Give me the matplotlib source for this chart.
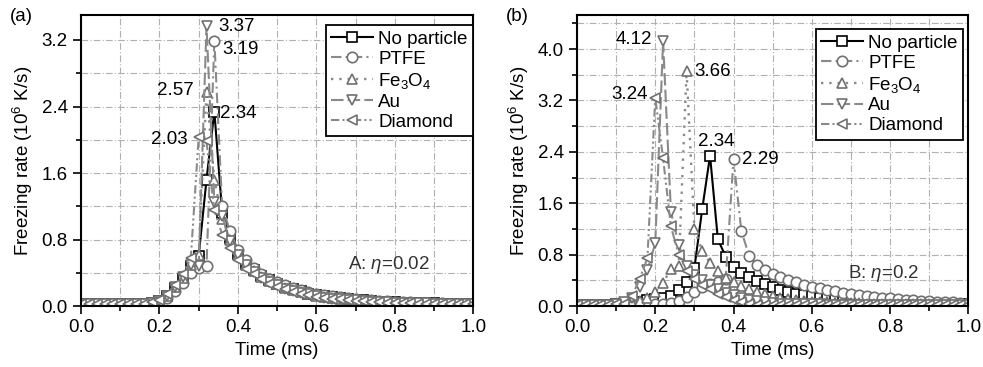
import matplotlib.pyplot as plt
from matplotlib.ticker import MultipleLocator

plt.rcParams['font.family'] = ['Liberation Sans', 'DejaVu Sans']
plt.rcParams['mathtext.fontset'] = 'custom'
plt.rcParams['mathtext.rm'] = 'Liberation Sans'
plt.rcParams['mathtext.it'] = 'Liberation Sans:italic'

# time axis (ms), one marker every 0.02 ms
t = [0.00, 0.02, 0.04, 0.06, 0.08, 0.10, 0.12, 0.14, 0.16, 0.18,
     0.20, 0.22, 0.24, 0.26, 0.28, 0.30, 0.32, 0.34, 0.36, 0.38,
     0.40, 0.42, 0.44, 0.46, 0.48, 0.50, 0.52, 0.54, 0.56, 0.58,
     0.60, 0.62, 0.64, 0.66, 0.68, 0.70, 0.72, 0.74, 0.76, 0.78,
     0.80, 0.82, 0.84, 0.86, 0.88, 0.90, 0.92, 0.94, 0.96, 0.98, 1.00]

labels = ['No particle', 'PTFE', 'Fe$_3$O$_4$', 'Au', 'Diamond']

# ---- panel (a), eta = 0.02 ----
a_none = [0.02, 0.02, 0.02, 0.02, 0.02, 0.02, 0.02, 0.02, 0.03, 0.04,
          0.06, 0.12, 0.22, 0.33, 0.48, 0.60, 1.52, 2.34, 1.12, 0.82,
          0.63, 0.51, 0.43, 0.36, 0.31, 0.27, 0.23, 0.20, 0.18, 0.15,
          0.13, 0.12, 0.11, 0.095, 0.085, 0.075, 0.068, 0.06, 0.055, 0.05,
          0.045, 0.042, 0.04, 0.037, 0.035, 0.033, 0.03, 0.028, 0.026, 0.025, 0.024]
a_ptfe = [0.02, 0.02, 0.02, 0.02, 0.02, 0.02, 0.02, 0.02, 0.03, 0.04,
          0.05, 0.10, 0.18, 0.28, 0.40, 0.46, 0.48, 3.19, 1.20, 0.90,
          0.68, 0.55, 0.46, 0.39, 0.33, 0.29, 0.25, 0.22, 0.19, 0.17,
          0.15, 0.13, 0.12, 0.105, 0.095, 0.085, 0.075, 0.068, 0.062, 0.056,
          0.05, 0.047, 0.044, 0.041, 0.038, 0.035, 0.033, 0.031, 0.029, 0.027, 0.026]
a_fe3o4 = [0.02, 0.02, 0.02, 0.02, 0.02, 0.02, 0.02, 0.02, 0.03, 0.04,
           0.06, 0.12, 0.23, 0.34, 0.50, 0.62, 2.57, 1.52, 1.05, 0.80,
           0.62, 0.50, 0.42, 0.35, 0.30, 0.26, 0.22, 0.19, 0.17, 0.14,
           0.12, 0.11, 0.10, 0.09, 0.08, 0.07, 0.063, 0.057, 0.052, 0.048,
           0.044, 0.04, 0.038, 0.035, 0.033, 0.031, 0.029, 0.027, 0.025, 0.024, 0.023]
a_au = [0.02, 0.02, 0.02, 0.02, 0.02, 0.02, 0.02, 0.02, 0.03, 0.04,
        0.06, 0.12, 0.23, 0.35, 0.50, 0.48, 3.37, 1.25, 1.08, 0.78,
        0.61, 0.49, 0.41, 0.34, 0.29, 0.25, 0.21, 0.18, 0.16, 0.14,
        0.12, 0.10, 0.09, 0.08, 0.075, 0.068, 0.06, 0.055, 0.05, 0.046,
        0.042, 0.039, 0.036, 0.034, 0.032, 0.03, 0.028, 0.026, 0.024, 0.023, 0.022]
a_diamond = [0.02, 0.02, 0.02, 0.02, 0.02, 0.02, 0.02, 0.02, 0.03, 0.05,
             0.07, 0.14, 0.25, 0.38, 0.58, 2.03, 1.98, 1.15, 0.86, 0.70,
             0.55, 0.45, 0.38, 0.32, 0.27, 0.23, 0.20, 0.17, 0.15, 0.13,
             0.11, 0.10, 0.09, 0.08, 0.07, 0.062, 0.056, 0.05, 0.046, 0.042,
             0.038, 0.035, 0.033, 0.031, 0.029, 0.027, 0.025, 0.024, 0.022, 0.021, 0.02]

# ---- panel (b), eta = 0.2 ----
b_none = [0.02, 0.02, 0.02, 0.02, 0.02, 0.03, 0.04, 0.05, 0.07, 0.09,
          0.11, 0.13, 0.16, 0.25, 0.38, 0.59, 1.51, 2.34, 1.04, 0.77,
          0.61, 0.52, 0.45, 0.39, 0.34, 0.29, 0.25, 0.22, 0.19, 0.17,
          0.15, 0.13, 0.12, 0.10, 0.09, 0.08, 0.075, 0.07, 0.065, 0.06,
          0.055, 0.05, 0.048, 0.045, 0.042, 0.04, 0.038, 0.036, 0.034, 0.032, 0.03]
b_ptfe = [0.02, 0.02, 0.02, 0.02, 0.02, 0.02, 0.02, 0.02, 0.03, 0.03,
          0.03, 0.04, 0.05, 0.08, 0.14, 0.22, 0.30, 0.34, 0.37, 0.42,
          2.29, 1.17, 0.78, 0.64, 0.56, 0.50, 0.45, 0.40, 0.37, 0.33,
          0.30, 0.28, 0.25, 0.23, 0.21, 0.19, 0.17, 0.16, 0.14, 0.13,
          0.12, 0.11, 0.10, 0.09, 0.08, 0.075, 0.07, 0.065, 0.06, 0.055, 0.05]
b_fe3o4 = [0.02, 0.02, 0.02, 0.02, 0.02, 0.03, 0.03, 0.05, 0.08, 0.12,
           0.22, 0.36, 0.58, 0.62, 3.66, 1.20, 0.86, 0.67, 0.55, 0.44,
           0.38, 0.32, 0.27, 0.22, 0.19, 0.16, 0.13, 0.11, 0.10, 0.08,
           0.07, 0.065, 0.06, 0.055, 0.05, 0.045, 0.042, 0.04, 0.037, 0.035,
           0.033, 0.031, 0.029, 0.027, 0.026, 0.025, 0.024, 0.023, 0.022, 0.021, 0.02]
b_au = [0.02, 0.02, 0.02, 0.02, 0.02, 0.03, 0.06, 0.12, 0.30, 0.56,
        0.98, 4.12, 1.47, 0.95, 0.62, 0.48, 0.40, 0.33, 0.27, 0.21,
        0.17, 0.13, 0.10, 0.08, 0.06, 0.05, 0.04, 0.035, 0.03, 0.03,
        0.025, 0.025, 0.02, 0.02, 0.02, 0.02, 0.02, 0.02, 0.02, 0.02,
        0.02, 0.02, 0.02, 0.02, 0.02, 0.02, 0.02, 0.02, 0.02, 0.02, 0.02]
b_diamond = [0.02, 0.02, 0.02, 0.02, 0.02, 0.03, 0.04, 0.15, 0.42, 0.75,
             3.24, 2.30, 1.24, 0.80, 0.55, 0.42, 0.33, 0.26, 0.19, 0.14,
             0.10, 0.07, 0.04, 0.02, 0.015, 0.01, 0.01, 0.01, 0.01, 0.01,
             0.01, 0.01, 0.01, 0.01, 0.01, 0.01, 0.01, 0.01, 0.01, 0.01,
             0.01, 0.01, 0.01, 0.01, 0.01, 0.01, 0.01, 0.01, 0.01, 0.01, 0.01]

# peak labels: (text, x, y, ha)
a_notes = [('3.37', 0.35, 3.36, 'left'), ('3.19', 0.36, 3.09, 'left'),
           ('2.57', 0.288, 2.59, 'right'), ('2.34', 0.355, 2.32, 'left'),
           ('2.03', 0.272, 2.0, 'right')]
b_notes = [('4.12', 0.191, 4.15, 'right'), ('3.66', 0.299, 3.65, 'left'),
           ('3.24', 0.18, 3.29, 'right'), ('2.34', 0.357, 2.56, 'center'),
           ('2.29', 0.421, 2.28, 'left')]

gray = '#8a8a8a'
styles = [
    dict(color='black', ls='-', marker='s', lw=1.5),
    dict(color=gray, ls=(0, (5, 2, 1, 2)), marker='o', lw=1.5),
    dict(color=gray, ls=(0, (1, 2.5)), marker='^', lw=1.7),
    dict(color=gray, ls=(0, (6, 2)), marker='v', lw=1.5),
    dict(color=gray, ls=(0, (4, 1.5, 1, 1.5, 1, 1.5)), marker='<', lw=1.5),
]

fs = 13.5
fig = plt.figure(figsize=(9.83, 3.67), dpi=100)
ax_a = fig.add_axes([0.0824, 0.166, 0.399, 0.793])
ax_b = fig.add_axes([0.587, 0.166, 0.398, 0.793])


def draw(ax, series, notes, ymax, text, leg_anchor, tag):
    for y, lab, st in zip(series, labels, styles):
        ax.plot(t, y, label=lab, color=st['color'], ls=st['ls'], lw=st['lw'],
                marker=st['marker'], ms=7.5, mfc='white',
                mec='black' if st['color'] == 'black' else '#707070', mew=1.2)
    for s, x, y, ha in notes:
        ax.text(x, y, s, fontsize=fs, ha=ha, va='center')
    ax.text(0.785, 0.5, text, fontsize=fs, ha='center', va='center',
            color='#333333')
    ax.set_xlim(0, 1.0)
    ax.set_ylim(0, ymax)
    ax.xaxis.set_major_locator(MultipleLocator(0.2))
    ax.xaxis.set_minor_locator(MultipleLocator(0.1))
    ax.yaxis.set_major_locator(MultipleLocator(0.8))
    ax.yaxis.set_minor_locator(MultipleLocator(0.4))
    ax.xaxis.set_major_formatter(plt.FormatStrFormatter('%.1f'))
    ax.yaxis.set_major_formatter(plt.FormatStrFormatter('%.1f'))
    ax.grid(True, which='both', color='#b0b0b0', ls=(0, (6, 2, 1, 2)), lw=0.8)
    ax.set_axisbelow(True)
    ax.tick_params(which='both', direction='out', labelsize=fs, width=1.2)
    ax.tick_params(which='major', length=6)
    ax.tick_params(which='minor', length=3.5)
    for sp in ax.spines.values():
        sp.set_linewidth(1.5)
    ax.set_xlabel('Time (ms)', fontsize=fs, labelpad=4)
    ax.set_ylabel('Freezing rate (10$^6$ K/s)', fontsize=fs, labelpad=5)
    leg = ax.legend(loc='upper right', bbox_to_anchor=leg_anchor,
                    borderaxespad=0, fontsize=fs, handlelength=2.2,
                    handletextpad=0.3, labelspacing=0.15, borderpad=0.3,
                    fancybox=False, framealpha=1, edgecolor='black')
    leg.get_frame().set_linewidth(1.3)
    fig.text(ax.get_position().x0 - 0.072, 0.955, tag, fontsize=fs,
             ha='left', va='center')


draw(ax_a, [a_none, a_ptfe, a_fe3o4, a_au, a_diamond], a_notes, 3.5,
     'A: $\\mathit{\\eta}$=0.02', (1.0, 0.965), '(a)')
draw(ax_b, [b_none, b_ptfe, b_fe3o4, b_au, b_diamond], b_notes, 4.53,
     'B: $\\mathit{\\eta}$=0.2', (0.987, 0.952), '(b)')

fig.savefig('out.png', dpi=100)
